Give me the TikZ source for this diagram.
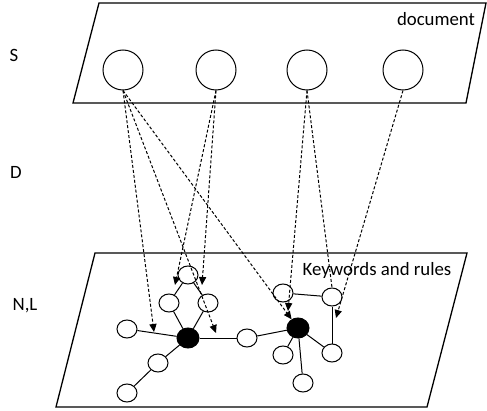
\documentclass[tikz,border=0pt]{standalone}
\usepackage{fontspec}
\setmainfont{Carlito}
\usetikzlibrary{arrows.meta,shapes.geometric}

\begin{document}
\begin{tikzpicture}[x=0.5pt, y=-0.5pt, line width=0.5pt,
  lbl/.style={font=\fontsize{9.4}{11}\selectfont, inner sep=0pt},
  plane/.style={line width=0.65pt},
  sent/.style={circle, draw, minimum size=20pt, inner sep=0pt},
  kw/.style={ellipse, draw, minimum width=10pt, minimum height=9pt, inner sep=0pt},
  hub/.style={ellipse, draw, fill=black, minimum width=11pt, minimum height=10pt, inner sep=0pt},
  link/.style={dash pattern=on 1.5pt off 1pt, -{Triangle[length=4pt,width=3.6pt]}}
]
\useasboundingbox (0,0) rectangle (487,411);

% planes
\draw[plane] (99,3) -- (486,3) -- (466,103) -- (73,103) -- cycle;
\draw[plane] (95,253) -- (467,253) -- (427,407) -- (56,407) -- cycle;
\node[lbl] (doc) at (436,19) {document};
\node[lbl] (kwr) at (377,270) {Keywords and rules};

% level names
\node[lbl] (lS) at (14,55) {S};
\node[lbl] (lD) at (16,172) {D};
\node[lbl] (lNL) at (25,306) {N,L};

% sentences
\foreach \n/\px in {1/123, 2/216, 3/307, 4/403}
  \node[sent] (s\n) at (\px,70) {};

% keywords graph
\node[kw] (t) at (188,275) {};
\node[kw] (l) at (169,303) {};
\node[kw] (r) at (208,303) {};
\node[hub] (a) at (188,338) {};
\node[kw] (ll) at (127,329) {};
\node[kw] (rr) at (247,338) {};
\node[kw] (d1) at (158,363) {};
\node[kw] (d2) at (127,393) {};
\node[kw] (p) at (283,293) {};
\node[kw] (q) at (332,297) {};
\node[hub] (b) at (298,328) {};
\node[kw] (e) at (332,353) {};
\node[kw] (f) at (283,355) {};
\node[kw] (g) at (303,383) {};

\foreach \u/\v in {t/l, t/r, l/a, r/a, ll/a, a/rr, a/d1, d1/d2, rr/b, p/q, q/e, b/e, b/f, b/g}
  \draw (\u) -- (\v);

% mappings
\coordinate (m1) at (154,332);
\coordinate (m2) at (216,333);
\coordinate (m3) at (175,285);
\coordinate (m4) at (202,285);
\coordinate (m5) at (288,311);
\coordinate (m6) at (336,318);

\draw[link] (s1.south) -- (m1);
\draw[link] (s1.south) -- (m2);
\draw[link] (s1.south) -- (b);
\draw[link] (s2.south) -- (m3);
\draw[link] (s2.south) -- (m4);
\draw[link] (s3.south) -- (m5);
\draw[link, -] (s3.south) -- (q.north);
\draw[link] (s4.south) -- (m6);
\end{tikzpicture}
\end{document}
